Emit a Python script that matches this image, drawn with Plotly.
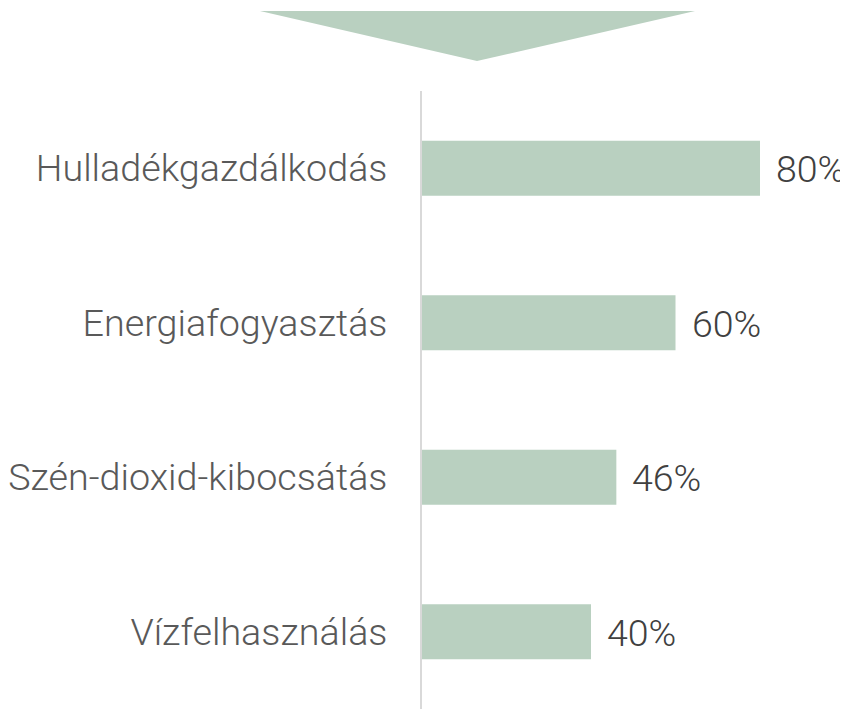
import plotly.graph_objects as go

categories = ["Hulladékgazdálkodás", "Energiafogyasztás", "Szén-dioxid-kibocsátás", "Vízfelhasználás"]
values = [80, 60, 46, 40]
value_labels = [f"{v}%" for v in values]

BAR = "#b9d0c0"
W, H = 848, 709
OFF = 8  # page body margin
ML, MR, MT, MB = 422 - OFF, 18, 91 - OFF, OFF
pw = W - ML - MR
ph = H - MT - MB
xmax = pw / 4.225

fig = go.Figure()
fig.add_trace(go.Bar(
    y=categories, x=values, orientation="h",
    marker=dict(color=BAR, line=dict(width=0)),
    hoverinfo="skip",
))

for c, v, t in zip(categories, values, value_labels):
    fig.add_annotation(x=v, y=c, text=t, showarrow=False, xanchor="left", yanchor="middle",
                       xshift=14, yshift=-1,
                       font=dict(family="Roboto", size=37.5, color="#404040", weight=300))

def px_x(x):
    return (x - OFF - ML) / pw
def px_y(y):
    return (H - MB - (y - OFF)) / ph

fig.add_shape(type="path", xref="paper", yref="paper",
              path=f"M {px_x(260)},{px_y(11)} L {px_x(695)},{px_y(11)} L {px_x(477)},{px_y(61)} Z",
              fillcolor=BAR, line=dict(width=0), layer="above")

fig.update_layout(
    width=W, height=H,
    margin=dict(l=ML, r=MR, t=MT, b=MB, pad=0, autoexpand=False),
    paper_bgcolor="white", plot_bgcolor="white",
    showlegend=False, bargap=0.645,
    font=dict(family="Roboto", size=37.7, color="#595959", weight=300),
    xaxis=dict(range=[0, xmax], visible=False, fixedrange=True, automargin=False),
    yaxis=dict(autorange="reversed", showgrid=False, zeroline=False, automargin=False,
               showline=True, linecolor="#d9d9d9", linewidth=2,
               ticks="", ticklabelstandoff=25,
               tickfont=dict(family="Roboto", size=37.7, color="#595959", weight=300)),
)

fig.write_html("out.html")
